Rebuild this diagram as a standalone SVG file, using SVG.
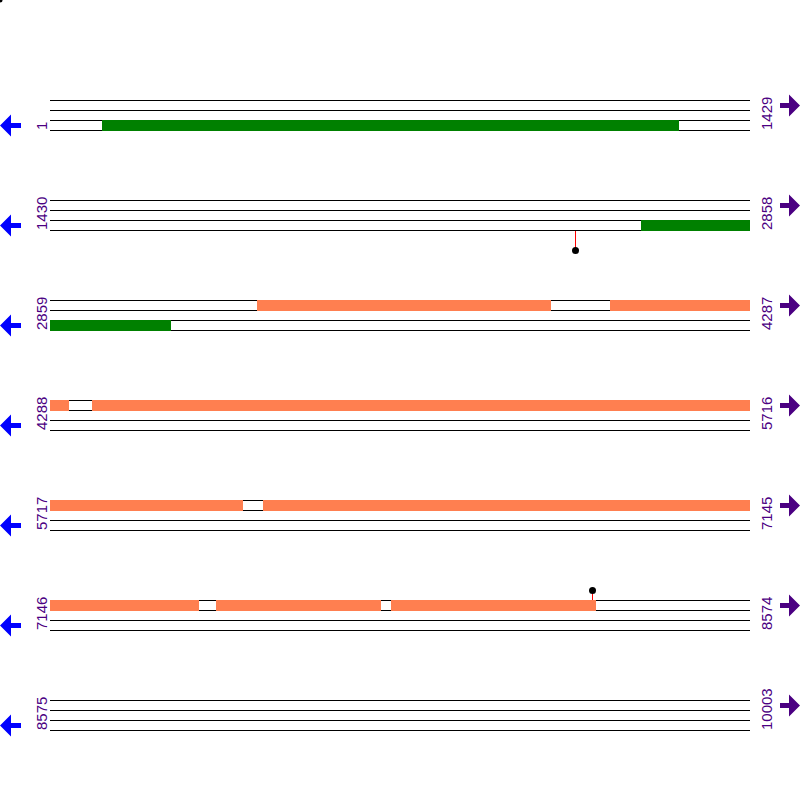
<svg xmlns="http://www.w3.org/2000/svg" width="800" height="800" viewBox="0 0 800 800">
<style>
.tl{stroke:#000;stroke-width:1;fill:none}
.lbl{font-family:"Liberation Sans",Arial,sans-serif;font-size:15px;fill:#4b0082}
.g{fill:#008000}
.o{fill:#ff7f50}
.stem{stroke:#ff0000;stroke-width:1}
.dot{fill:#000}
.la{fill:#0000ff}
.ra{fill:#4b0082}
</style>
<defs>
<g id="tracks">
<line class="tl" x1="50" y1="100.5" x2="750" y2="100.5"/>
<line class="tl" x1="50" y1="110.5" x2="750" y2="110.5"/>
<line class="tl" x1="50" y1="120.5" x2="750" y2="120.5"/>
<line class="tl" x1="50" y1="130.5" x2="750" y2="130.5"/>
</g>
<polygon id="larrow" points="0,125.5 11,114.5 11,123 21,123 21,128 11,128 11,136.5"/>
<polygon id="rarrow" points="800,105.5 789,94.5 789,103 780,103 780,108 789,108 789,116.5"/>
</defs>
<circle class="dot" cx="0" cy="0" r="2.5"/>
<g id="row1">
<use href="#tracks"/>
<rect class="g" x="102" y="120" width="577" height="11"/>
<use href="#larrow" class="la"/>
<use href="#rarrow" class="ra"/>
<text class="lbl" transform="translate(47,130) rotate(-90)">1</text>
<text class="lbl" transform="translate(772,130) rotate(-90)">1429</text>
</g>
<g id="row2" transform="translate(0,100)">
<use href="#tracks"/>
<rect class="g" x="641" y="120" width="109" height="11"/>
<use href="#larrow" class="la"/>
<use href="#rarrow" class="ra"/>
<text class="lbl" transform="translate(47,130) rotate(-90)">1430</text>
<text class="lbl" transform="translate(772,130) rotate(-90)">2858</text>
</g>
<g id="row3" transform="translate(0,200)">
<use href="#tracks"/>
<rect class="o" x="257" y="100" width="294" height="11"/>
<rect class="o" x="610" y="100" width="140" height="11"/>
<rect class="g" x="50" y="120" width="121" height="11"/>
<use href="#larrow" class="la"/>
<use href="#rarrow" class="ra"/>
<text class="lbl" transform="translate(47,130) rotate(-90)">2859</text>
<text class="lbl" transform="translate(772,130) rotate(-90)">4287</text>
</g>
<g id="row4" transform="translate(0,300)">
<use href="#tracks"/>
<rect class="o" x="50" y="100" width="19" height="11"/>
<rect class="o" x="92" y="100" width="658" height="11"/>
<use href="#larrow" class="la"/>
<use href="#rarrow" class="ra"/>
<text class="lbl" transform="translate(47,130) rotate(-90)">4288</text>
<text class="lbl" transform="translate(772,130) rotate(-90)">5716</text>
</g>
<g id="row5" transform="translate(0,400)">
<use href="#tracks"/>
<rect class="o" x="50" y="100" width="193" height="11"/>
<rect class="o" x="263" y="100" width="487" height="11"/>
<use href="#larrow" class="la"/>
<use href="#rarrow" class="ra"/>
<text class="lbl" transform="translate(47,130) rotate(-90)">5717</text>
<text class="lbl" transform="translate(772,130) rotate(-90)">7145</text>
</g>
<g id="row6" transform="translate(0,500)">
<use href="#tracks"/>
<rect class="o" x="50" y="100" width="149" height="11"/>
<rect class="o" x="216" y="100" width="165" height="11"/>
<rect class="o" x="391" y="100" width="205" height="11"/>
<use href="#larrow" class="la"/>
<use href="#rarrow" class="ra"/>
<text class="lbl" transform="translate(47,130) rotate(-90)">7146</text>
<text class="lbl" transform="translate(772,130) rotate(-90)">8574</text>
</g>
<g id="row7" transform="translate(0,600)">
<use href="#tracks"/>
<use href="#larrow" class="la"/>
<use href="#rarrow" class="ra"/>
<text class="lbl" transform="translate(47,130) rotate(-90)">8575</text>
<text class="lbl" transform="translate(772,130) rotate(-90)">10003</text>
</g>
<g id="markers">
<line class="stem" x1="575.5" y1="231" x2="575.5" y2="250"/>
<circle class="dot" cx="575.5" cy="250.5" r="3.5"/>
<line class="stem" x1="592.5" y1="590" x2="592.5" y2="600"/>
<circle class="dot" cx="592.5" cy="590.5" r="3.5"/>
</g>
</svg>
